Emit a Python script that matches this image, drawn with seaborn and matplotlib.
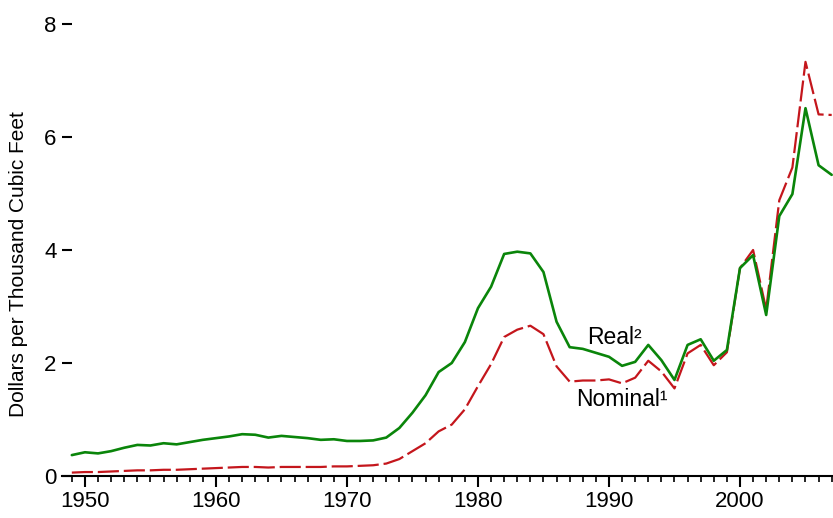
import pandas as pd
import numpy as np
import matplotlib
matplotlib.use('Agg')
import matplotlib.pyplot as plt
import seaborn as sns
from matplotlib.ticker import MultipleLocator

# Natural gas wellhead price, dollars per thousand cubic feet
years = list(range(1949, 2008))

nominal = [0.06, 0.07, 0.07, 0.08, 0.09, 0.10, 0.10, 0.11, 0.11, 0.12,
           0.13, 0.14, 0.15, 0.16, 0.16, 0.15, 0.16, 0.16, 0.16, 0.16,
           0.17, 0.17, 0.18, 0.19, 0.22, 0.30, 0.44, 0.58, 0.79, 0.91,
           1.18, 1.59, 1.98, 2.46, 2.59, 2.66, 2.51, 1.94, 1.67, 1.69,
           1.69, 1.71, 1.64, 1.74, 2.04, 1.85, 1.55, 2.17, 2.32, 1.96,
           2.19, 3.68, 4.00, 2.95, 4.88, 5.46, 7.33, 6.40, 6.39]

real = [0.37, 0.42, 0.40, 0.44, 0.50, 0.55, 0.54, 0.58, 0.56, 0.60,
        0.64, 0.67, 0.70, 0.74, 0.73, 0.68, 0.71, 0.69, 0.67, 0.64,
        0.65, 0.62, 0.62, 0.63, 0.68, 0.85, 1.12, 1.43, 1.84, 2.00,
        2.37, 2.97, 3.35, 3.93, 3.97, 3.94, 3.61, 2.73, 2.28, 2.25,
        2.18, 2.11, 1.95, 2.02, 2.32, 2.05, 1.70, 2.32, 2.42, 2.04,
        2.23, 3.68, 3.91, 2.85, 4.60, 4.99, 6.51, 5.50, 5.33]

df = pd.DataFrame({'year': years, 'Nominal': nominal, 'Real': real})

sns.set_style('ticks', {'axes.edgecolor': 'black', 'text.color': 'black',
                        'xtick.color': 'black', 'ytick.color': 'black',
                        'axes.labelcolor': 'black'})
plt.rcParams['font.family'] = ['Liberation Sans', 'DejaVu Sans']

fig = plt.figure(figsize=(8.33, 5.18), dpi=100)
ax = fig.add_axes([62 / 833, 1 - 476 / 518, 1 - 62 / 833, (476 - 24) / 518])

sns.lineplot(data=df, x='year', y='Nominal', ax=ax, color='#c4161c',
             linewidth=1.6)
ax.lines[-1].set_dashes((9.5, 2.2))
sns.lineplot(data=df, x='year', y='Real', ax=ax, color='#0a850a',
             linewidth=1.9)

ax.text(1988.3, 2.46, 'Real\u00b2', fontsize=16.5, va='center', ha='left')
ax.text(1987.5, 1.35, 'Nominal\u00b9', fontsize=16.5, va='center', ha='left')

ax.set_xlim(1948.25, 2007.1)
ax.set_ylim(0, 8)
ax.xaxis.set_major_locator(MultipleLocator(10))
ax.xaxis.set_minor_locator(MultipleLocator(1))
ax.yaxis.set_major_locator(MultipleLocator(2))

for side in ['left', 'top', 'right']:
    ax.spines[side].set_visible(False)
ax.spines['bottom'].set_linewidth(1.5)

ax.tick_params(axis='x', which='major', direction='out', length=8, width=1.5,
               labelsize=16, pad=3)
ax.tick_params(axis='x', which='minor', direction='out', length=4.5, width=1.2)
ax.tick_params(axis='y', which='major', direction='in', length=7.5, width=1.5,
               labelsize=16, pad=4)

ax.set_xlabel('')
ax.set_ylabel('Dollars per Thousand Cubic Feet', fontsize=15)
ax.yaxis.label.set_va('center')
ax.yaxis.set_label_coords(-43 / 771, (476 - 264) / 452)

fig.savefig('out.png', dpi=100)
